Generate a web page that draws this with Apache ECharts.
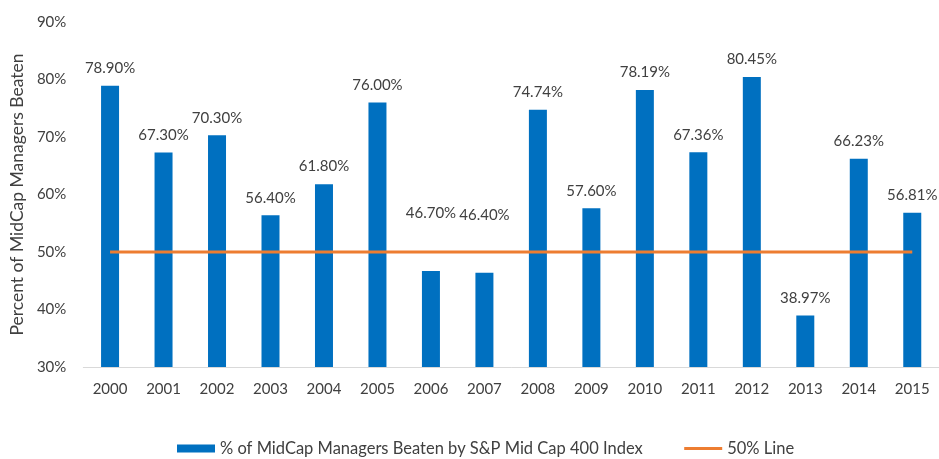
<!DOCTYPE html>
<html>
<head>
<meta charset="utf-8">
<script src="https://cdn.jsdelivr.net/npm/echarts@6/dist/echarts.min.js"></script>
<style>
  html, body { margin: 0; padding: 0; background: #fff; }
  #chart { width: 939px; height: 459px; }
</style>
</head>
<body>
<div id="chart"></div>
<script>
const years = ['2000', '2001', '2002', '2003', '2004', '2005', '2006', '2007',
  '2008', '2009', '2010', '2011', '2012', '2013', '2014', '2015'];
const beaten = [78.90, 67.30, 70.30, 56.40, 61.80, 76.00, 46.70, 46.40,
  74.74, 57.60, 78.19, 67.36, 80.45, 38.97, 66.23, 56.81];
const fiftyLine = [50, 50, 50, 50, 50, 50, 50, 50, 50, 50, 50, 50, 50, 50, 50, 50];

const font = 'Lato';
const textColor = '#404040';
const chart = echarts.init(document.getElementById('chart'));

// labels of the two bars under the 50% line were lifted above it
const barData = beaten.map((v, i) => {
  if (v < 50 && v > 45) return { value: v, label: { distance: 50 } };
  return v;
});

chart.setOption({
  animation: false,
  textStyle: { fontFamily: font },
  grid: { left: 82, top: 22, width: 866, height: 345 },
  legend: {
    top: 435,
    left: 172,
    itemGap: 40,
    itemWidth: 38,
    itemHeight: 8,
    textStyle: { fontFamily: font, fontSize: 16.5, color: textColor },
    data: [
      { name: '% of MidCap Managers Beaten by S&P Mid Cap 400 Index', icon: 'rect' },
      { name: '50% Line', itemStyle: { opacity: 0 }, lineStyle: { width: 3 } }
    ]
  },
  xAxis: {
    type: 'category',
    data: years,
    axisLine: { lineStyle: { color: '#D9D9D9', width: 1 } },
    axisTick: { show: false },
    axisLabel: { color: textColor, fontSize: 15, margin: 15, fontFamily: font }
  },
  yAxis: {
    type: 'value',
    min: 30,
    max: 90,
    interval: 10,
    name: 'Percent of MidCap Managers Beaten',
    nameLocation: 'middle',
    nameGap: 56,
    nameTextStyle: { color: textColor, fontSize: 17.5, fontFamily: font },
    splitLine: { show: false },
    axisLine: { show: false },
    axisTick: { show: false },
    axisLabel: {
      color: textColor, fontSize: 15, margin: 17, fontFamily: font,
      formatter: v => v + '%'
    }
  },
  series: [
    {
      name: '% of MidCap Managers Beaten by S&P Mid Cap 400 Index',
      type: 'bar',
      data: barData,
      barWidth: 18,
      itemStyle: { color: '#0070C0' },
      label: {
        show: true,
        position: 'top',
        distance: 10,
        color: textColor,
        fontSize: 15,
        fontFamily: font,
        formatter: p => p.value.toFixed(2) + '%'
      }
    },
    {
      name: '50% Line',
      type: 'line',
      data: fiftyLine,
      symbol: 'none',
      lineStyle: { color: '#ED7D31', width: 3 },
      itemStyle: { color: '#ED7D31' }
    }
  ]
});
</script>
</body>
</html>
